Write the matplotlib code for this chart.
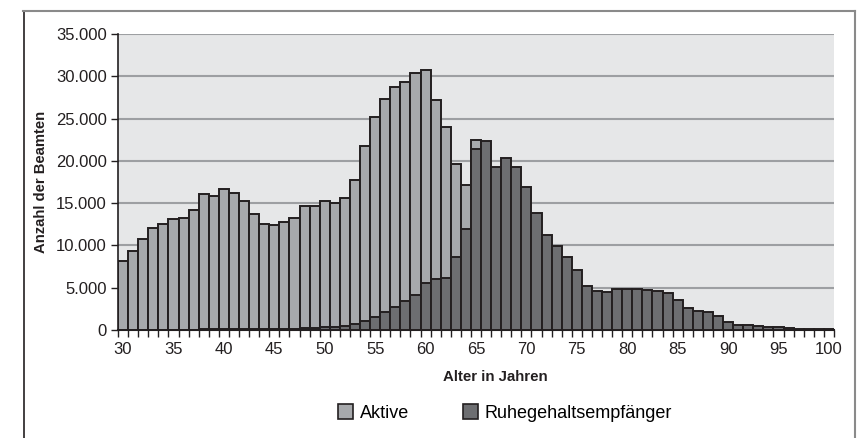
import matplotlib
matplotlib.use("Agg")
import matplotlib.pyplot as plt
from matplotlib.patches import Patch
from matplotlib.lines import Line2D
from matplotlib.ticker import FuncFormatter

plt.rcParams['font.family'] = ['Liberation Sans', 'DejaVu Sans']

ages = list(range(30, 101))

aktive = [
    8100, 9400, 10800, 12100, 12500, 13100, 13300, 14200, 16100, 15800,   # 30-39
    16700, 16200, 15200, 13700, 12500, 12400, 12800, 13200, 14700, 14700, # 40-49
    15200, 15000, 15600, 17700, 21800, 25200, 27300, 28700, 29300, 30400, # 50-59
    30800, 27200, 24000, 19600, 17100, 22500, 5000, 2500, 1500, 1000,     # 60-69
    600, 400, 300, 200, 150, 100, 80, 60, 50, 40,                         # 70-79
    30, 30, 20, 20, 20, 10, 10, 10, 10, 10,                               # 80-89
    5, 5, 5, 5, 5, 5, 5, 5, 5, 5, 5                                       # 90-100
]

ruhe = [
    30, 30, 30, 30, 30, 40, 40, 50, 60, 80,                               # 30-39
    120, 120, 120, 130, 130, 140, 150, 170, 250, 280,                     # 40-49
    330, 350, 470, 670, 1030, 1540, 2090, 2680, 3390, 4180,               # 50-59
    5600, 6020, 6140, 8590, 11900, 21400, 22400, 19300, 20300, 19300,     # 60-69
    16900, 13800, 11200, 9900, 8600, 7100, 5200, 4600, 4500, 4800,        # 70-79
    4900, 4800, 4700, 4600, 4400, 3600, 2650, 2300, 2100, 1600,           # 80-89
    1000, 600, 600, 450, 330, 330, 200, 150, 100, 80, 60                  # 90-100
]

y_ticks = [0, 5000, 10000, 15000, 20000, 25000, 30000, 35000]
x_label_ages = [30, 35, 40, 45, 50, 55, 60, 65, 70, 75, 80, 85, 90, 95, 100]

W, H = 857, 438
fig = plt.figure(figsize=(W / 100, H / 100), dpi=100)
fig.patch.set_facecolor('white')

left, right, top, bottom = 118, 834, 34, 330
ax = fig.add_axes([left / W, (H - bottom) / H, (right - left) / W, (bottom - top) / H])
ax.set_facecolor('#e6e7e8')

pos = list(range(len(ages)))
ax.bar(pos, aktive, width=1.0, color='#a7a9ac', edgecolor='#231f20', linewidth=1.4, zorder=3)
ax.bar(pos, ruhe, width=1.0, color='#6d6e71', edgecolor='#231f20', linewidth=1.4, zorder=4)

ax.set_ylim(0, 35000)
ax.set_xlim(-0.5, len(ages) - 0.5)

ax.set_yticks(y_ticks)
ax.yaxis.set_major_formatter(FuncFormatter(lambda v, p: f"{int(v):,}".replace(",", ".")))
for yv in y_ticks[1:]:
    ax.axhline(yv, color='#9d9fa2', linewidth=1.5, zorder=1)

ax.set_xticks([ages.index(a) for a in x_label_ages])
ax.set_xticklabels([str(a) for a in x_label_ages])
ax.set_xticks([p - 0.5 for p in pos] + [len(ages) - 0.5], minor=True)
ax.tick_params(axis='x', which='major', length=0, pad=9, labelsize=12, colors='#231f20')
ax.tick_params(axis='x', which='minor', length=5, width=1, color='#231f20', direction='out')
ax.tick_params(axis='y', which='major', length=5, width=1, pad=3, labelsize=12, colors='#231f20')

for s in ['top', 'right']:
    ax.spines[s].set_visible(False)
ax.spines['left'].set_color('#231f20')
ax.spines['bottom'].set_color('#231f20')
ax.spines['left'].set_linewidth(1.2)
ax.spines['bottom'].set_linewidth(1.5)

fig.text(495 / W, 1 - 377 / H, 'Alter in Jahren', fontsize=10.8, fontweight='bold',
         ha='center', va='center', color='#231f20')
fig.text(41.5 / W, 1 - 182 / H, 'Anzahl der Beamten', rotation=90, fontsize=10.7,
         fontweight='bold', ha='center', va='center', color='#231f20')

handles = [Patch(facecolor='#a7a9ac', edgecolor='#231f20', linewidth=1.2, label='Aktive'),
           Patch(facecolor='#6d6e71', edgecolor='#231f20', linewidth=1.2, label='Ruhegehaltsempfänger')]
fig.legend(handles=handles, loc='center', bbox_to_anchor=(505 / W, 1 - 413 / H), ncol=2,
           frameon=False, fontsize=13, handlelength=0.85, handleheight=0.85,
           handletextpad=0.35, columnspacing=3.0)

# outer frame
fig.add_artist(Line2D([23.5 / W, 23.5 / W], [0, 1 - 11 / H], color='#231f20', linewidth=1.2,
                      transform=fig.transFigure))
fig.add_artist(Line2D([23 / W, 854.5 / W], [1 - 11 / H, 1 - 11 / H], color='#8a8a8a', linewidth=1.5,
                      transform=fig.transFigure))
fig.add_artist(Line2D([854.5 / W, 854.5 / W], [0, 1 - 11 / H], color='#8a8a8a', linewidth=1.5,
                      transform=fig.transFigure))

fig.savefig('out.png', dpi=100)
